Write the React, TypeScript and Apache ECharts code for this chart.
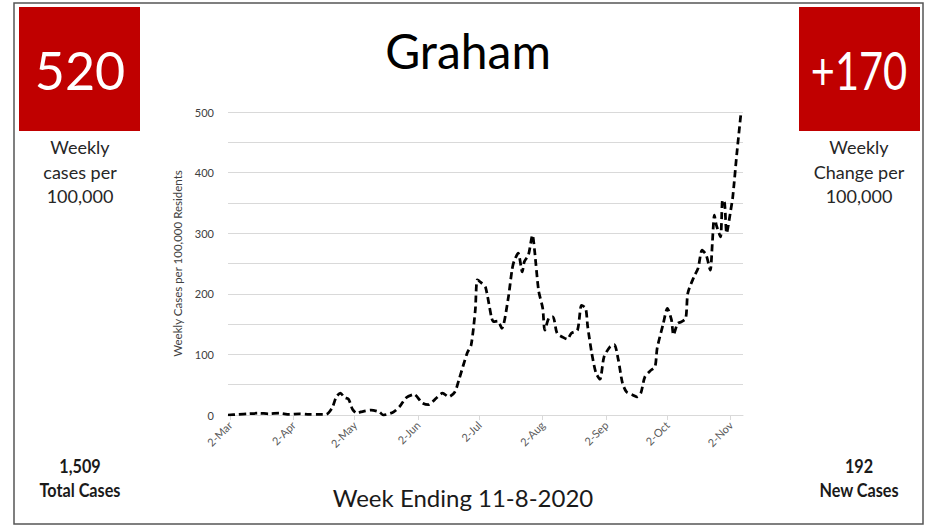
import React, { useEffect, useRef } from "react";
import * as echarts from "echarts";

// Days since 1-Mar-2020
const days = [
  0, 5, 10, 15, 20, 25, 30, 35, 40, 45, 48, 51, 53, 55, 57, 59, 61, 63, 65, 70,
  74, 76, 81, 84, 87, 91, 95, 98, 102, 105, 108, 111, 113, 117, 119, 121, 122, 124,
  126, 129, 130, 132, 134, 137, 139, 140, 142, 144, 145, 147, 149, 150, 152, 154,
  155, 157, 159, 161, 164, 166, 168, 171, 173, 175, 176, 178, 180, 182, 184, 187,
  189, 191, 193, 195, 198, 200, 202, 204, 207, 209, 210, 213, 215, 217, 218, 220,
  222, 224, 225, 228, 230, 232, 234, 236, 237, 238, 239, 241, 242, 243, 244, 246,
  247, 249, 251,
];
const weeklyCases = [
  0, 1, 2, 3, 2, 3, 1, 2, 1, 1, 1, 12, 30, 36, 29, 26, 9, 3, 5, 8,
  5, 0, 5, 14, 28, 34, 20, 17, 28, 36, 30, 38, 58, 102, 116, 173, 223, 218,
  211, 160, 154, 155, 143, 190, 240, 254, 267, 236, 253, 264, 297, 272, 205, 176,
  140, 160, 162, 135, 128, 125, 135, 140, 181, 176, 146, 102, 70, 59, 96, 113,
  116, 91, 53, 38, 33, 30, 36, 63, 74, 80, 110, 151, 176, 157, 132, 151,
  154, 160, 201, 228, 242, 272, 264, 239, 284, 330, 313, 294, 355, 350, 300, 338,
  360, 432, 498,
];
const tickDays = [1, 32, 62, 93, 123, 154, 185, 215, 246];
const tickLabels = ["2-Mar", "2-Apr", "2-May", "2-Jun", "2-Jul", "2-Aug", "2-Sep", "2-Oct", "2-Nov"];

const title = "Graham";
const subtitle = "Week Ending 11-8-2020";
const leftBig = "520";
const leftLines = ["Weekly", "cases per", "100,000"];
const rightBig = "+170";
const rightLines = ["Weekly", "Change per", "100,000"];
const leftBottom = ["1,509", "Total Cases"];
const rightBottom = ["192", "New Cases"];

const FONT = "Lato, 'Open Sans', sans-serif";

export default function App() {
  const ref = useRef<HTMLDivElement>(null);
  useEffect(() => {
    if (!ref.current) return;
    const chart = echarts.init(ref.current, null, { renderer: "svg" });
    const txt = (
      text: string,
      x: number,
      y: number,
      size: number,
      fill: string,
      weight = "normal",
      scaleX = 1
    ) => ({
      type: "text",
      x,
      y,
      scaleX,
      style: {
        text,
        x: 0,
        y: 0,
        textAlign: "center",
        textVerticalAlign: "middle",
        fontSize: size,
        fontFamily: FONT,
        fontWeight: weight,
        fill,
      },
    });
    const graphic: any[] = [
      {
        type: "rect",
        shape: { x: 14, y: 3, width: 909, height: 521 },
        style: { fill: "none", stroke: "#555555", lineWidth: 1.5 },
      },
      { type: "rect", shape: { x: 19, y: 7, width: 121, height: 124 }, style: { fill: "#C00000" } },
      { type: "rect", shape: { x: 799, y: 7, width: 121, height: 124 }, style: { fill: "#C00000" } },
      txt(leftBig, 80, 70, 52, "#ffffff"),
      txt(rightBig, 859, 70, 52, "#ffffff", "normal", 0.8),
      txt(title, 468, 50, 48, "#000000"),
      txt(subtitle, 463, 497, 24, "#1a1a1a"),
      ...leftLines.map((t, i) => txt(t, 80, 147 + i * 24.5, 18, "#262626")),
      ...rightLines.map((t, i) => txt(t, 859, 147 + i * 24.5, 18, "#262626")),
      txt(leftBottom[0], 80, 466, 18, "#1a1a1a", "bold", 0.9),
      txt(leftBottom[1], 80, 490, 18, "#1a1a1a", "bold", 0.9),
      txt(rightBottom[0], 859, 466, 18, "#1a1a1a", "bold", 0.9),
      txt(rightBottom[1], 859, 490, 18, "#1a1a1a", "bold", 0.9),
    ];
    chart.setOption({
      animation: false,
      backgroundColor: "#ffffff",
      grid: { left: 228, right: 185, top: 112, bottom: 112, containLabel: false },
      xAxis: {
        type: "value",
        min: 0,
        max: 252,
        splitLine: { show: false },
        axisLine: { show: true, lineStyle: { color: "#d9d9d9", width: 1 } },
        axisTick: {
          show: true,
          customValues: tickDays,
          length: 5,
          lineStyle: { color: "#d9d9d9" },
        },
        axisLabel: {
          customValues: tickDays,
          rotate: 45,
          fontSize: 11,
          fontFamily: FONT,
          color: "#595959",
          margin: 8,
          formatter: (v: number) => {
            const i = tickDays.indexOf(Math.round(v));
            return i >= 0 ? tickLabels[i] : "";
          },
        },
      },
      yAxis: {
        type: "value",
        min: 0,
        max: 500,
        interval: 50,
        name: "Weekly Cases per 100,000 Residents",
        nameLocation: "middle",
        nameGap: 31,
        nameTextStyle: { fontSize: 11.5, fontFamily: FONT, color: "#404040" },
        axisLine: { show: false },
        axisTick: { show: false },
        splitLine: { lineStyle: { color: "#d9d9d9", width: 1 } },
        axisLabel: {
          fontSize: 11,
          fontFamily: FONT,
          color: "#404040",
          margin: 14,
          formatter: (v: number) => (v % 100 === 0 ? String(v) : ""),
        },
      },
      series: [
        {
          type: "line",
          data: days.map((d, i) => [d, weeklyCases[i]]),
          showSymbol: false,
          smooth: 0.25,
          lineStyle: { color: "#000000", width: 2.75, type: [7, 4] },
        },
      ],
      graphic,
    });
    return () => chart.dispose();
  }, []);
  return (
    <div
      ref={ref}
      style={{ position: "absolute", left: 0, top: 0, width: 928, height: 527 }}
    />
  );
}
